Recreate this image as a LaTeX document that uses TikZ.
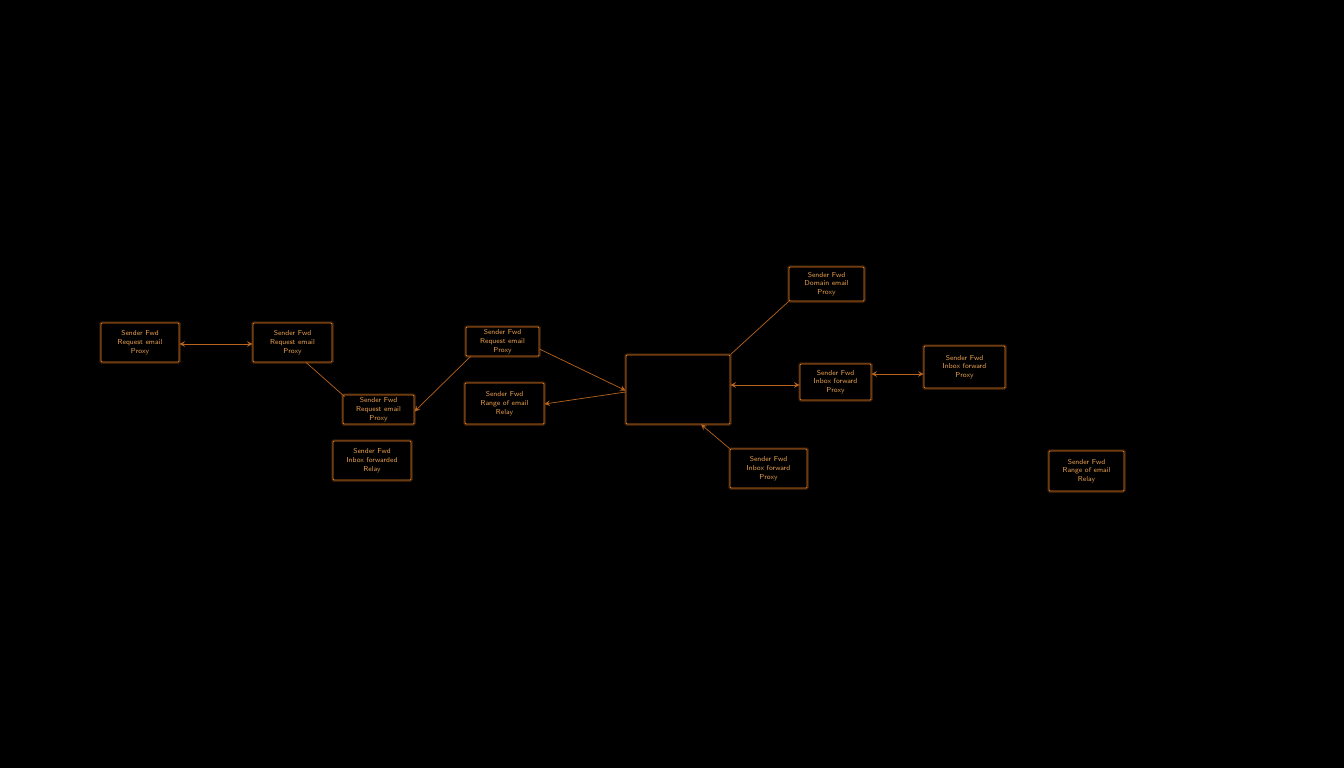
\documentclass[tikz,border=0pt]{standalone}
\usetikzlibrary{arrows}
\usetikzlibrary{calc}
\definecolor{glow}{HTML}{E07A22}
\definecolor{wire}{HTML}{B8641E}
\definecolor{ink}{HTML}{E8A050}

\begin{document}
\begin{tikzpicture}[x = 0.02cm, y = -0.02cm,
	box/.style = {draw = glow, line width = 0.5pt, fill = black, rounded corners = 0.5pt,
		preaction = {draw = glow, line width = 2pt, opacity = 0.22},
		text = ink, align = center, inner sep = 0pt,
		font = \sffamily\fontsize{4.1}{5}\selectfont},
	wire/.style = {draw = wire, line width = 0.4pt},
	>=stealth]
	\fill[black] (0,0) rectangle (1344,768);
	\useasboundingbox (0,0) rectangle (1344,768);

	\node[box, minimum width = 1.56cm, minimum height = 0.78cm] (src) at (140, 342.5) {Sender Fwd\\Request email\\Proxy};
	\node[box, minimum width = 1.58cm, minimum height = 0.78cm] (fwd) at (292.5, 342.5) {Sender Fwd\\Request email\\Proxy};
	\node[box, minimum width = 1.42cm, minimum height = 0.58cm] (relay) at (378.5, 409.5) {Sender Fwd\\Request email\\Proxy};
	\node[box, minimum width = 1.56cm, minimum height = 0.78cm] (spare) at (372, 460.5) {Sender Fwd\\Inbox forwarded\\Relay};
	\node[box, minimum width = 1.46cm, minimum height = 0.58cm] (upper) at (502.5, 341.5) {Sender Fwd\\Request email\\Proxy};
	\node[box, minimum width = 1.58cm, minimum height = 0.82cm] (lower) at (504.5, 403.5) {Sender Fwd\\Range of email\\Relay};
	\node[box, minimum width = 2.08cm, minimum height = 1.38cm] (hub) at (678, 389.5) {};
	\node[box, minimum width = 1.50cm, minimum height = 0.68cm] (top) at (826.5, 284) {Sender Fwd\\Domain email\\Proxy};
	\node[box, minimum width = 1.42cm, minimum height = 0.72cm] (mid) at (835.5, 382) {Sender Fwd\\Inbox forward\\Proxy};
	\node[box, minimum width = 1.62cm, minimum height = 0.84cm] (far) at (964.5, 367) {Sender Fwd\\Inbox forward\\Proxy};
	\node[box, minimum width = 1.54cm, minimum height = 0.78cm] (bot) at (768.5, 468.5) {Sender Fwd\\Inbox forward\\Proxy};
	\node[box, minimum width = 1.50cm, minimum height = 0.80cm] (lone) at (1086.5, 471) {Sender Fwd\\Range of email\\Relay};

	\draw[wire, <->] (src.east |- 0,344) -- (fwd.west |- 0,344);
	\draw[wire] ($(fwd.south west)!0.67!(fwd.south east)$) -- ($(relay.north west)+(2,2)$);
	\draw[wire, ->] ($(upper.south west)+(5,0)$) -- ($(relay.east)+(0,2)$);
	\draw[wire, ->] (upper.east |- 0,349) -- ($(hub.west)+(0,1)$);
	\draw[wire, ->] ($(hub.west)+(0,2.5)$) -- (lower.east |- 0,404);
	\draw[wire] (hub.north east) -- (top.south west);
	\draw[wire, <->] (hub.east |- 0,385) -- (mid.west |- 0,385);
	\draw[wire, <->] (mid.east |- 0,374) -- (far.west |- 0,374);
	\draw[wire, <-] ($(hub.south west)!0.72!(hub.south east)$) -- (bot.north west);
\end{tikzpicture}
\end{document}
